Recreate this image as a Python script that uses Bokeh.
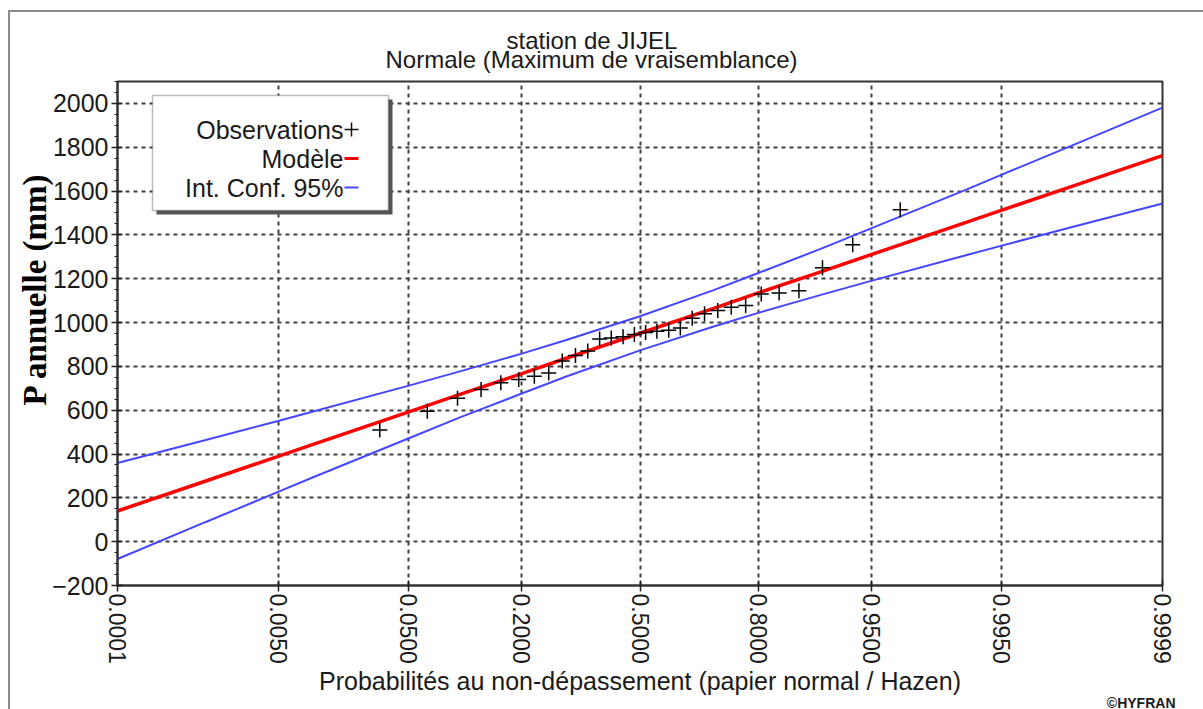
from statistics import NormalDist
from bokeh.plotting import figure
from bokeh.models import Range1d, FixedTicker, Label, BoxAnnotation, Title
from bokeh.embed import file_html
from bokeh.resources import INLINE

# ---------------- data ----------------
title_line1 = "station de JIJEL"
title_line2 = "Normale (Maximum de vraisemblance)"
x_label = "Probabilités au non-dépassement (papier normal / Hazen)"
y_label = "P annuelle (mm)"
credit = "©HYFRAN"

tick_probs = [0.0001, 0.005, 0.05, 0.2, 0.5, 0.8, 0.95, 0.995, 0.9999]
tick_labels = ["0.0001", "0.0050", "0.0500", "0.2000", "0.5000",
               "0.8000", "0.9500", "0.9950", "0.9999"]
y_ticks = [-200, 0, 200, 400, 600, 800, 1000, 1200, 1400, 1600, 1800, 2000]

# observations (non-exceedance probability, annual rainfall mm)
obs_prob = [0.032, 0.065, 0.097, 0.129, 0.161, 0.194, 0.226, 0.258, 0.290, 0.323,
            0.355, 0.387, 0.419, 0.452, 0.484, 0.516, 0.548, 0.581, 0.613, 0.645,
            0.677, 0.710, 0.742, 0.774, 0.806, 0.839, 0.871, 0.903, 0.935, 0.968]
obs_value = [510, 595, 655, 695, 725, 740, 755, 770, 825, 850,
             870, 925, 930, 935, 945, 955, 960, 965, 975, 1020,
             1040, 1055, 1070, 1078, 1130, 1135, 1145, 1250, 1355, 1515]

# fitted model and 95% confidence interval
curve_prob = [0.0001, 0.001, 0.005, 0.01, 0.05, 0.1, 0.2, 0.3, 0.5,
              0.7, 0.8, 0.9, 0.95, 0.99, 0.995, 0.999, 0.9999]
model_value = [140, 277, 389, 444, 592, 672, 767, 837, 951,
               1065, 1135, 1230, 1310, 1458, 1513, 1625, 1762]
ci_upper = [359, 464, 551, 594, 712, 777, 858, 920, 1029,
            1148, 1226, 1335, 1430, 1608, 1675, 1812, 1981]
ci_lower = [-79, 90, 227, 294, 472, 567, 676, 754, 873,
            982, 1044, 1125, 1190, 1308, 1351, 1438, 1543]

legend_labels = ["Observations", "Modèle", "Int. Conf. 95%"]

# ---------------- normal probability scale ----------------
nd = NormalDist()
def q(pr):
    return round(nd.inv_cdf(pr), 6)

tick_z = [q(v) for v in tick_probs]
obs_z = [q(v) for v in obs_prob]
curve_z = [q(v) for v in curve_prob]

TXT = "#1a1a1a"
SANS = "Liberation Sans"
BLUE = "#4646ff"

p = figure(width=1203, height=709, output_backend="svg", toolbar_location=None,
           x_range=Range1d(tick_z[0], tick_z[-1]), y_range=Range1d(-200, 2100),
           min_border_left=117, min_border_right=41, min_border_top=81,
           min_border_bottom=124)
p.background_fill_color = "white"
p.border_fill_color = "white"
p.border_fill_alpha = 0
p.outline_line_color = "#333333"
p.outline_line_width = 2
# outer grey page frame (left and top edges)
p.styles = {"box-shadow": "inset 8px 10px 0 0 #ffffff, inset 10px 12px 0 0 #8c8c8c",
            "background-color": "white"}

# x axis
p.xaxis.ticker = FixedTicker(ticks=tick_z)
p.xaxis.major_label_overrides = dict(zip(tick_z, tick_labels))
p.xaxis.major_label_orientation = "vertical"
p.xaxis.major_label_text_font = SANS
p.xaxis.major_label_text_font_size = "23px"
p.xaxis.major_label_text_color = TXT
p.xaxis.major_label_standoff = 2
p.xaxis.major_tick_in = 5
p.xaxis.major_tick_out = 6
p.xaxis.axis_label = x_label
p.xaxis.axis_label_text_font = SANS
p.xaxis.axis_label_text_font_style = "normal"
p.xaxis.axis_label_text_font_size = "25px"
p.xaxis.axis_label_text_color = TXT
p.xaxis.axis_label_standoff = 0

# y axis
p.yaxis.ticker = FixedTicker(ticks=y_ticks, minor_ticks=list(range(-200, 2101, 50)))
p.yaxis.major_label_text_font = SANS
p.yaxis.major_label_text_font_size = "25px"
p.yaxis.major_label_text_color = TXT
p.yaxis.major_label_standoff = 3
p.yaxis.major_tick_in = 5
p.yaxis.major_tick_out = 6
p.yaxis.minor_tick_in = 0
p.yaxis.minor_tick_out = 3

for ax in (p.xaxis, p.yaxis):
    ax.axis_line_color = "#333333"
    ax.axis_line_width = 2
    ax.major_tick_line_color = "#222222"
    ax.major_tick_line_width = 1.5
    ax.minor_tick_line_color = "#222222"
p.xaxis.minor_tick_line_color = None

# y axis title as a left-side title (left-aligned so it can be offset upward)
p.add_layout(Title(text=y_label, align="left", offset=180, standoff=-6,
                   text_font="Liberation Serif", text_font_style="bold",
                   text_font_size="33px", text_color="black"), "left")

# chart titles (left-aligned with offsets to centre them around x~591)
p.add_layout(Title(text=title_line2, align="left", offset=268, standoff=18,
                   text_font=SANS, text_font_style="normal", text_font_size="24px",
                   text_color=TXT), "above")
p.add_layout(Title(text=title_line1, align="left", offset=389, standoff=-38,
                   text_font=SANS, text_font_style="normal", text_font_size="24px",
                   text_color=TXT), "above")

# credit line
p.add_layout(Title(text=credit, align="right", offset=-13, standoff=-6,
                   vertical_align="top", text_font=SANS,
                   text_font_style="bold", text_font_size="14px",
                   text_color=TXT), "below")

# grid
p.xgrid.ticker = FixedTicker(ticks=tick_z)
p.ygrid.ticker = FixedTicker(ticks=y_ticks)
for g in (p.xgrid, p.ygrid):
    g.grid_line_color = "#404040"
    g.grid_line_dash = "4 4"
    g.grid_line_width = 2

# data
p.line(curve_z, ci_upper, line_color=BLUE, line_width=2)
p.line(curve_z, ci_lower, line_color=BLUE, line_width=2)
p.line(curve_z, model_value, line_color="#ff0000", line_width=3.5)
p.scatter(obs_z, obs_value, marker="cross", size=15, line_color="black", line_width=1.5)

# legend box with shadow
def sbox(l, r, t, b, col, line=None, lw=1):
    return BoxAnnotation(left=l, right=r, top=t, bottom=b,
                         left_units="screen", right_units="screen",
                         top_units="screen", bottom_units="screen",
                         fill_color=col, fill_alpha=1, line_color=line, line_width=lw)

p.add_layout(sbox(39, 275, 486, 371, "#555555"))
p.add_layout(sbox(35, 271, 490, 375, "white", line="#222222", lw=1.5))
rows_y = [456, 427, 398]
for lab, yy in zip(legend_labels, rows_y):
    p.add_layout(Label(x=226, y=yy, x_units="screen", y_units="screen", text=lab,
                       text_align="right", text_baseline="middle", text_font=SANS,
                       text_font_size="25px", text_color=TXT))

p.add_layout(sbox(227, 241, 456.75, 455.25, "#111111"))
p.add_layout(sbox(233.25, 234.75, 463, 449, "#111111"))
p.add_layout(sbox(227, 241, 428.5, 425.5, "#ff0000"))
p.add_layout(sbox(227, 241, 399, 397, BLUE))

open("out.html", "w").write(file_html(p, INLINE))
